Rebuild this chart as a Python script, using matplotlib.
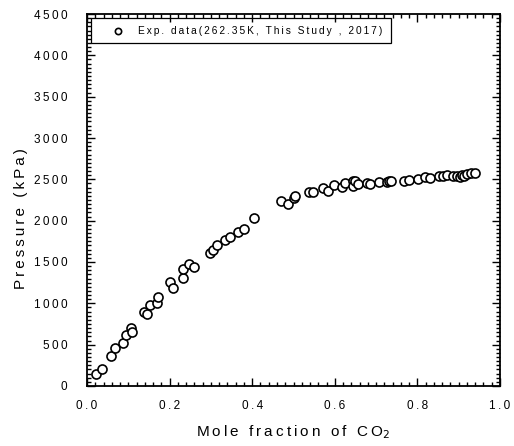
import numpy as np
import matplotlib
matplotlib.use('Agg')
import matplotlib.pyplot as plt
from matplotlib.ticker import MultipleLocator, FixedFormatter, FixedLocator

matplotlib.rcParams['font.family'] = ['Liberation Sans', 'DejaVu Sans']

# mole fraction of CO2 and pressure (kPa)
x_co2 = [0.023, 0.036, 0.057, 0.068, 0.086, 0.094, 0.106, 0.110, 0.138, 0.145,
         0.153, 0.169, 0.172, 0.200, 0.208, 0.232, 0.232, 0.246, 0.259, 0.299,
         0.306, 0.314, 0.334, 0.346, 0.365, 0.381, 0.404, 0.470, 0.487, 0.500,
         0.504, 0.537, 0.548, 0.571, 0.584, 0.598, 0.617, 0.625, 0.643, 0.645,
         0.649, 0.655, 0.677, 0.685, 0.708, 0.727, 0.732, 0.736, 0.767, 0.779,
         0.802, 0.819, 0.831, 0.852, 0.861, 0.872, 0.887, 0.895, 0.903, 0.908,
         0.912, 0.919, 0.929, 0.939]
p_kpa = [142, 209, 359, 460, 516, 621, 702, 650, 895, 871,
         980, 1008, 1080, 1254, 1182, 1306, 1415, 1476, 1440, 1613,
         1650, 1702, 1762, 1806, 1863, 1903, 2032, 2242, 2198, 2280,
         2295, 2347, 2347, 2399, 2360, 2428, 2411, 2459, 2480, 2419,
         2480, 2440, 2451, 2447, 2468, 2468, 2484, 2480, 2484, 2492,
         2508, 2532, 2520, 2537, 2537, 2549, 2545, 2545, 2533, 2556,
         2545, 2565, 2573, 2581]

x_ticks = [0.0, 0.2, 0.4, 0.6, 0.8, 1.0]
x_ticklabels = ['0.0', '0.2', '0.4', '0.6', '0.8', '1.0']
y_ticks = [0, 500, 1000, 1500, 2000, 2500, 3000, 3500, 4000, 4500]
y_ticklabels = ['0', '500', '1000', '1500', '2000', '2500', '3000', '3500', '4000', '4500']


def spaced(s, sep='\u2009'):
    # the original text is letter-spaced
    return sep.join(s)


fig = plt.figure(figsize=(5.14, 4.46), dpi=100)
ax = fig.add_axes([87 / 514, 60 / 446, 413 / 514, 372 / 446])

ax.plot(x_co2, p_kpa, 'o', mfc='white', mec='black', mew=1.2, ms=6.5,
        linestyle='none')

ax.set_xlim(0, 1.0)
ax.set_ylim(0, 4500)
ax.xaxis.set_major_locator(FixedLocator(x_ticks))
ax.xaxis.set_major_formatter(FixedFormatter([spaced(t) for t in x_ticklabels]))
ax.yaxis.set_major_locator(FixedLocator(y_ticks))
ax.yaxis.set_major_formatter(FixedFormatter([spaced(t) for t in y_ticklabels]))
ax.xaxis.set_minor_locator(MultipleLocator(0.02))
ax.yaxis.set_minor_locator(MultipleLocator(50))

ax.tick_params(which='both', direction='in', top=True, right=True, width=1.0,
               labelsize=8.5, colors='black')
ax.tick_params(which='major', length=6)
ax.tick_params(which='minor', length=3)
ax.tick_params(axis='x', which='major', pad=10)
ax.tick_params(axis='y', which='major', pad=14)
for sp in ax.spines.values():
    sp.set_linewidth(1.3)

ax.set_xlabel(spaced('Mole fraction of CO') + '$_{2}$', fontsize=11, labelpad=8)
ax.set_ylabel(spaced('Pressure (kPa)'), fontsize=11)
ax.yaxis.set_label_coords(-0.143, 0.45)

# legend drawn as a box with a small marker and text
leg_box = plt.Rectangle((0.01, 0.923), 0.725, 0.065, transform=ax.transAxes,
                        fill=False, edgecolor='black', linewidth=0.9)
ax.add_patch(leg_box)
ax.plot([0.075], [0.9555], 'o', transform=ax.transAxes, mfc='white', mec='black',
        mew=1.2, ms=4.5)
ax.text(0.123, 0.9555, spaced('Exp. data(262.35K, This Study , 2017)'),
        transform=ax.transAxes, fontsize=7.3, va='center', ha='left')

fig.savefig('out.png', dpi=100)
